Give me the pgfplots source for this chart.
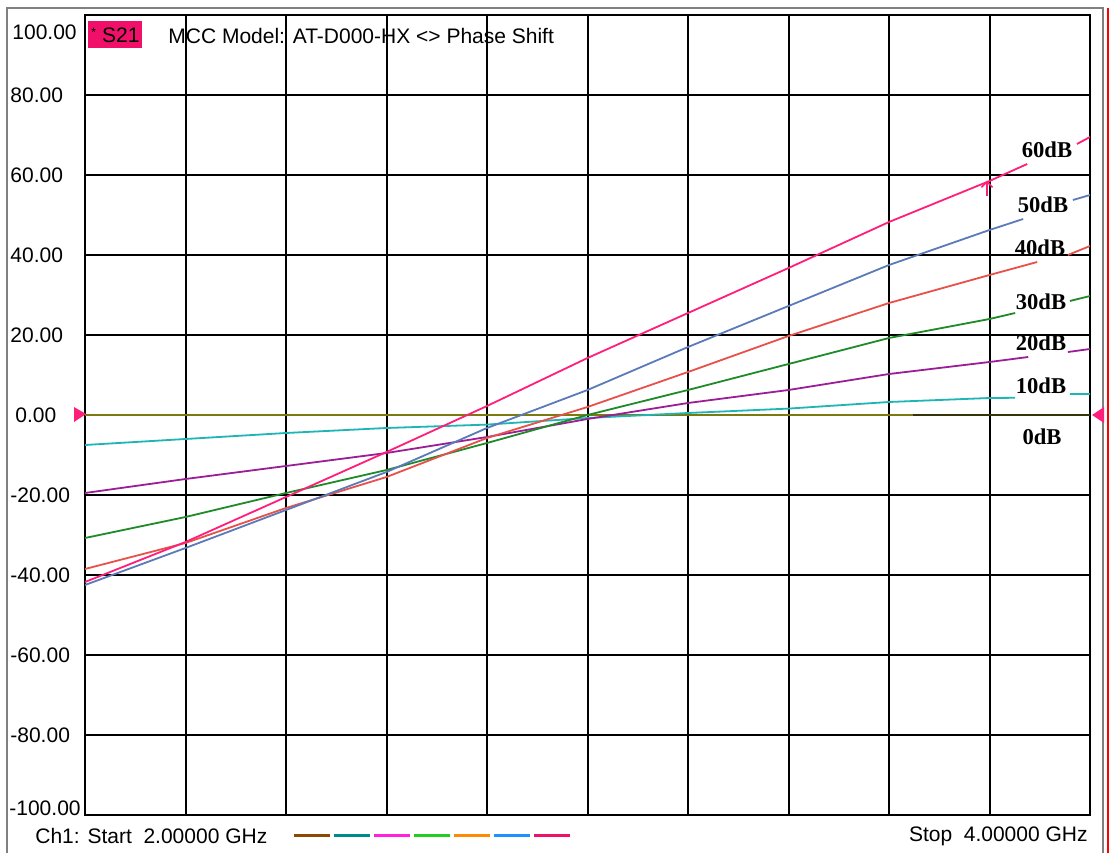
\documentclass[border=0pt]{standalone}
\usepackage{pgfplots}
\pgfplotsset{compat=1.18}
\usepackage{fontspec}
\setmainfont{Liberation Sans}
\newfontfamily\dbfont{Liberation Serif}

\definecolor{tr60}{HTML}{FF1F7A}
\definecolor{tr50}{HTML}{5A7AB8}
\definecolor{tr40}{HTML}{E8504A}
\definecolor{tr30}{HTML}{1E8A2A}
\definecolor{tr20}{HTML}{9B1E96}
\definecolor{tr10}{HTML}{1FB5B5}
\definecolor{tr0}{HTML}{7A7A10}
\definecolor{tr0dark}{HTML}{34340C}
\definecolor{s21}{HTML}{F0106A}
\definecolor{lgbrown}{HTML}{8B4A00}
\definecolor{lgteal}{HTML}{008B8B}
\definecolor{lgmag}{HTML}{FF22DD}
\definecolor{lggreen}{HTML}{22CC22}
\definecolor{lgorange}{HTML}{FF8C00}
\definecolor{lgblue}{HTML}{1E90FF}

\newcommand\lbl{\fontsize{10.5}{12}\selectfont}
\newcommand\dbl{\dbfont\bfseries\fontsize{11.3}{13}\selectfont}

% marker: up chevron with a stem
\pgfdeclareplotmark{vnamark}{%
  \pgfpathmoveto{\pgfpoint{-2.75pt}{-2.75pt}}%
  \pgfpathlineto{\pgfpoint{0pt}{0pt}}%
  \pgfpathlineto{\pgfpoint{2.75pt}{-2.75pt}}%
  \pgfpathmoveto{\pgfpoint{0pt}{0pt}}%
  \pgfpathlineto{\pgfpoint{0pt}{-7pt}}%
  \pgfusepathqstroke}

\begin{document}
\begin{tikzpicture}
\begin{scope}[x=0.5pt,y=-0.5pt]
\fill[white] (0,0) rectangle (1117,853);
\end{scope}

\begin{axis}[
at={(42.5pt,-407.5pt)}, anchor=south west,
scale only axis,
width=502.5pt, height=400pt,
xmin=2, xmax=4,
ymin=-100, ymax=100,
xtick={2.2,2.4,2.6,2.8,3.0,3.2,3.4,3.6,3.8},
xticklabels={},
ytick={-80,-60,-40,-20,0,20,40,60,80},
yticklabels={-80.00,-60.00,-40.00,-20.00,\hspace{2.5pt}0.00,20.00,40.00,60.00,80.00},
grid=major,
major grid style={black, line width=1pt},
axis line style={black, line width=1pt},
major tick length=0pt,
yticklabel style={anchor=west, inner sep=0pt, xshift=-37.5pt, font=\lbl},
unbounded coords=jump,
every axis plot/.append style={line width=0.9pt},
]

% 0dB
\addplot[color=tr0] coordinates {(2,0) (4,0)};
\addplot[color=tr0dark, line width=1.4pt] coordinates {(3.648,0) (4,0)};

% 10dB
\addplot[color=tr10] coordinates {
(2.0,-7.5) (2.2,-6) (2.4,-4.5) (2.6,-3.25) (2.8,-2.4) (3.0,-0.75)
(3.2,0.5) (3.4,1.6) (3.6,3.25) (3.8,4.25) (3.851,4.3)
(3.9,nan)
(3.960,5.25) (4.0,5.25)};

% 20dB
\addplot[color=tr20] coordinates {
(2.0,-19.5) (2.2,-16) (2.4,-12.75) (2.6,-9.5) (2.8,-5.5) (3.0,-1)
(3.2,3) (3.4,6.25) (3.6,10.25) (3.8,13.25) (3.877,14.5)
(3.92,nan)
(3.956,15.75) (4.0,16.5)};

% 30dB
\addplot[color=tr30] coordinates {
(2.0,-30.75) (2.2,-25.5) (2.4,-19.5) (2.6,-13.75) (2.8,-7) (3.0,0)
(3.2,6.25) (3.4,12.75) (3.6,19.25) (3.8,24) (3.851,25.5)
(3.9,nan)
(3.960,28.5) (4.0,29.75)};

% 40dB
\addplot[color=tr40] coordinates {
(2.0,-38.5) (2.2,-32) (2.4,-23.25) (2.6,-15.5) (2.8,-5.75) (3.0,2)
(3.2,10.75) (3.4,19.75) (3.6,28) (3.8,35) (3.895,38.25)
(3.93,nan)
(3.956,40) (4.0,42.25)};

% 50dB
\addplot[color=tr50] coordinates {
(2.0,-42.5) (2.2,-33.25) (2.4,-23.75) (2.6,-14.25) (2.8,-3.25) (3.0,6.25)
(3.2,17) (3.4,27.25) (3.6,37.5) (3.8,46.25) (3.867,49)
(3.92,nan)
(3.966,53.75) (4.0,55)};

% 60dB
\addplot[color=tr60] coordinates {
(2.0,-41.75) (2.2,-31.75) (2.4,-20.5) (2.6,-9.25) (2.8,2.25) (3.0,14.25)
(3.2,25.5) (3.4,36.75) (3.6,48.25) (3.8,58.5) (3.875,62.75)
(3.92,nan)
(3.974,67.75) (4.0,69.5)};

% marker on the 60dB trace
\addplot[color=tr60, only marks, mark=vnamark, mark options={line width=0.8pt}]
coordinates {(3.795,58.3)};
\end{axis}

\begin{scope}[x=0.5pt,y=-0.5pt]
% window frame
\draw[gray, line width=1.2pt] (7,853) -- (7,8) -- (1103,8) -- (1103,853);
\draw[red, line width=1pt] (1108,8) -- (1108,853);

% reference markers
\fill[tr60] (74,407) -- (86,414) -- (74,422) -- cycle;
\fill[tr60] (1104,407) -- (1092,415) -- (1104,423) -- cycle;

% y end labels
\node[anchor=west, inner sep=0pt, font=\lbl] at (12,32) {100.00};
\node[anchor=west, inner sep=0pt, font=\lbl] at (9,808) {-100.00};

% title
\fill[s21] (88,21) rectangle (142,48);
\node[anchor=west, inner sep=0pt, font=\lbl] at (91,35) {\raisebox{3pt}{\fontsize{6}{7}\selectfont*}\hspace{3pt}S21};
\node[anchor=west, inner sep=0pt, font=\lbl] at (168,36) {MCC Model: AT-D000-HX <> Phase Shift};

% trace labels
\node[font=\dbl] at (1047,150) {60dB};
\node[font=\dbl] at (1043,205) {50dB};
\node[font=\dbl] at (1040,248) {40dB};
\node[font=\dbl] at (1041,302) {30dB};
\node[font=\dbl] at (1041,343) {20dB};
\node[font=\dbl] at (1041,386) {10dB};
\node[font=\dbl] at (1042,437) {0dB};

% footer
\node[anchor=west, inner sep=0pt, font=\lbl] at (35,836) {Ch1: Start\ \ 2.00000 GHz};
\node[anchor=east, inner sep=0pt, font=\lbl] at (1088,836) {Stop\ \ 4.00000 GHz};
\foreach \c [count=\i from 0] in {lgbrown,lgteal,lgmag,lggreen,lgorange,lgblue,s21}
  \draw[\c, line width=1.5pt] ({294+40*\i},835) -- ({330+40*\i},835);
\end{scope}
\end{tikzpicture}
\end{document}
